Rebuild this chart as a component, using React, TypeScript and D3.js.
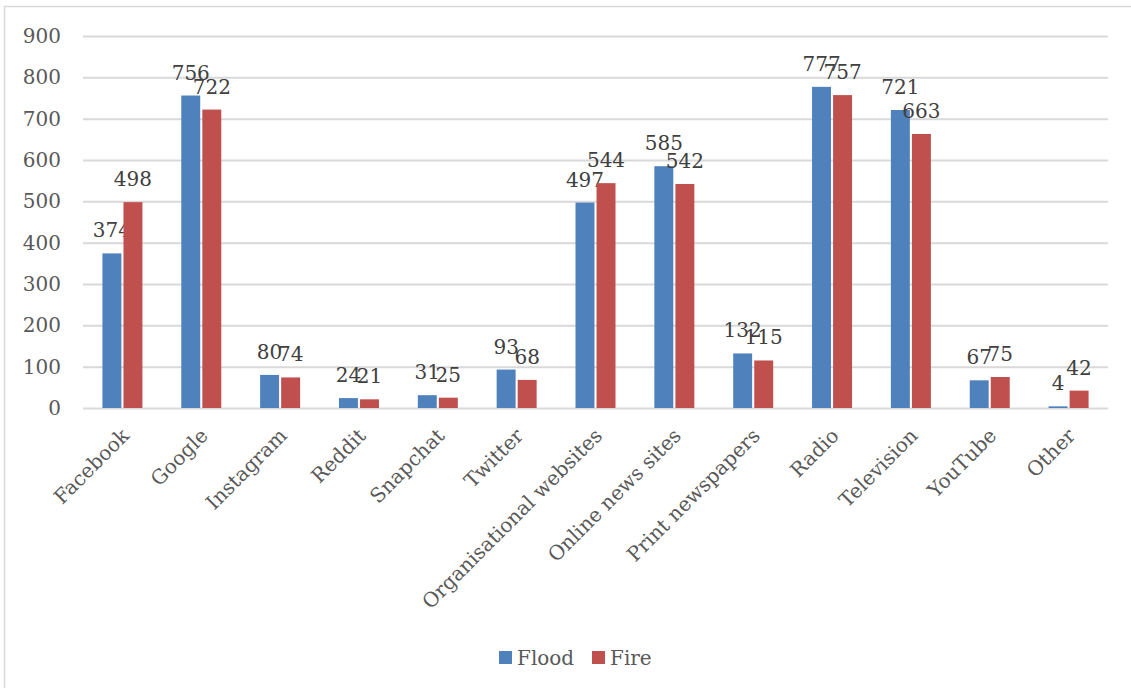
import { useEffect, useRef } from 'react';
import * as d3 from 'd3';

// categories and values
const categories = [
  'Facebook', 'Google', 'Instagram', 'Reddit', 'Snapchat', 'Twitter',
  'Organisational websites', 'Online news sites', 'Print newspapers',
  'Radio', 'Television', 'YouTube', 'Other',
];
const flood = [374, 756, 80, 24, 31, 93, 497, 585, 132, 777, 721, 67, 4];
const fire = [498, 722, 74, 21, 25, 68, 544, 542, 115, 757, 663, 75, 42];
const seriesNames = ['Flood', 'Fire'];
const yTicks = [0, 100, 200, 300, 400, 500, 600, 700, 800, 900];

const colors: Record<string, string> = { Flood: '#4f81bd', Fire: '#c0504d' };

export default function App() {
  const width = 1131;
  const height = 688;
  const marginLeft = 83;
  const marginRight = 23;
  const top = 36;
  const bottom = 408;
  const font = '"DejaVu Serif", serif';
  const fs = 20;

  const x0 = d3.scaleBand<string>().domain(categories).range([marginLeft, width - marginRight]);
  const x1 = d3.scaleBand<string>().domain(seriesNames).range([0, 40]).paddingInner(0.1);
  const y = d3.scaleLinear().domain([0, 900]).range([bottom, top]);

  const values: Record<string, number[]> = { Flood: flood, Fire: fire };

  const gy = useRef<SVGGElement>(null);

  // gridlines + y tick labels through d3 axis
  useEffect(() => {
    if (gy.current) {
      const g = d3.select(gy.current);
      g.call(
        d3.axisLeft(y)
          .tickValues(yTicks)
          .tickSize(-(width - marginRight - marginLeft))
          .tickPadding(22)
          .tickFormat(d3.format('d'))
      );
      g.select('.domain').remove();
      g.selectAll('.tick line').attr('stroke', '#d9d9d9').attr('stroke-width', 2);
      g.selectAll('.tick text')
        .attr('fill', '#595959')
        .attr('font-size', fs)
        .attr('font-family', font);
    }
  }, []);

  const groupOffset = (x0.bandwidth() - 40) / 2;

  return (
    <svg width={width} height={height} style={{ position: 'absolute', left: 0, top: 0, background: '#fff' }}>
      <rect x={4.5} y={6.5} width={1130} height={690} fill='white' stroke='#d9d9d9' strokeWidth={1.5} />
      <g ref={gy} transform={`translate(${marginLeft},0)`} />

      {categories.map((c, i) => (
        <g key={c} transform={`translate(${(x0(c) ?? 0) + groupOffset},0)`}>
          {seriesNames.map(s => {
            const v = values[s][i];
            return (
              <g key={s}>
                <rect
                  x={x1(s)}
                  y={y(v)}
                  width={x1.bandwidth()}
                  height={bottom - y(v)}
                  fill={colors[s]}
                />
                <text
                  x={(x1(s) ?? 0) + x1.bandwidth() / 2}
                  y={y(v) - 16}
                  textAnchor='middle'
                  fill='#404040'
                  fontSize={fs}
                  fontFamily={font}
                >
                  {v}
                </text>
              </g>
            );
          })}
        </g>
      ))}

      {/* category labels rotated */}
      {categories.map(c => (
        <text
          key={c}
          transform={`translate(${(x0(c) ?? 0) + x0.bandwidth() / 2 + 3},${bottom + 24}) rotate(-45)`}
          textAnchor='end'
          fill='#595959'
          fontSize={fs}
          fontFamily={font}
          dy='0.35em'
        >
          {c}
        </text>
      ))}

      {/* legend */}
      {seriesNames.map((s, i) => {
        const lx = i === 0 ? 499 : 592;
        return (
          <g key={s} transform={`translate(${lx},651)`}>
            <rect width={13} height={13} fill={colors[s]} />
            <text x={18} y={14} fill='#595959' fontSize={fs} fontFamily={font}>{s}</text>
          </g>
        );
      })}
    </svg>
  );
}
